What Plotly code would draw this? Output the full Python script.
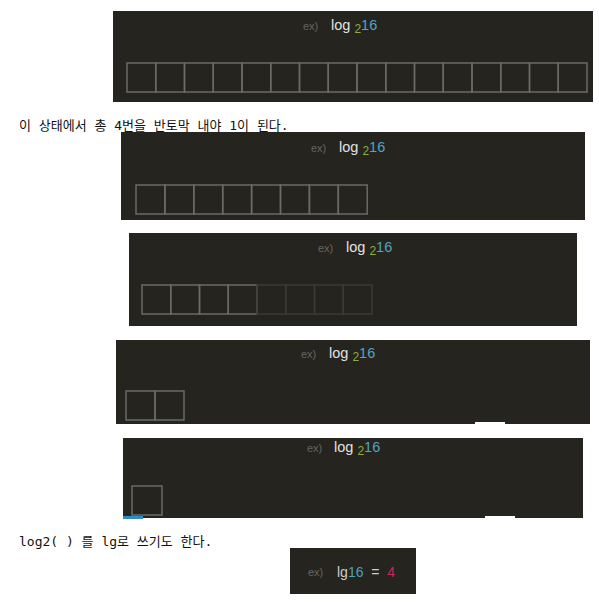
import plotly.graph_objects as go

# ---- data ----
bright_boxes = [16, 8, 4, 2, 1]        # boxes drawn at full brightness in each step
faded_boxes = [0, 0, 4, 0, 0]          # boxes already cut away (faded)
base_label = "2"
arg_label = "16"
result_label = "4"
caption_1 = "이 상태에서 총 4번을 반토막 내야 1이 된다."
caption_2 = "log2( ) 를 lg로 쓰기도 한다."

# ---- layout (pixel geometry of the screenshot) ----
W, H = 599, 611
BG = "#25241f"
BOX_LINE = "#6a6a68"
FADE_LINE = "#3b3a36"

panels = [  # x0, x1, y0, y1
    (113, 593, 11, 102),
    (121, 585, 132, 220),
    (129, 577, 233, 326),
    (116, 590, 340, 424),
    (123, 583, 438, 518),
]
box_geom = [  # left, top, width, height
    (127, 63, 28.75, 29),
    (136, 185, 28.9, 29),
    (142, 285, 28.75, 29),
    (126, 391, 29, 29),
    (132, 486, 30, 29),
]
text_pos = [  # ex) x, formula x, y
    (301, 329, 26),
    (309, 337, 148),
    (316, 344, 248),
    (299, 327, 354),
    (305, 332, 448),
]

fig = go.Figure()
shapes = []
annos = []

for i, (x0, x1, y0, y1) in enumerate(panels):
    shapes.append(dict(type="rect", xref="x", yref="y", x0=x0, x1=x1, y0=y0, y1=y1,
                       fillcolor=BG, line=dict(width=0), layer="below"))
    bx, by, bw, bh = box_geom[i]
    n_b = bright_boxes[i]
    n_f = faded_boxes[i]
    for k in range(n_b + n_f):
        col = BOX_LINE if k < n_b else FADE_LINE
        shapes.append(dict(type="rect", xref="x", yref="y",
                           x0=bx + k * bw, x1=bx + (k + 1) * bw, y0=by, y1=by + bh,
                           line=dict(color=col, width=1.5), fillcolor="rgba(0,0,0,0)"))
    ex_x, fx, ty = text_pos[i]
    annos.append(dict(x=ex_x, y=ty, xref="x", yref="y", text="ex)", showarrow=False,
                      xanchor="left", yanchor="middle",
                      font=dict(family="Liberation Sans", size=11, color="#66665f")))
    annos.append(dict(x=fx, y=ty, xref="x", yref="y", showarrow=False,
                      xanchor="left", yanchor="middle",
                      text=("log <sub><span style='color:#8fae3a;font-size:12px'>" + base_label +
                            "</span></sub><span style='color:#4ea7c6'>" + arg_label + "</span>"),
                      font=dict(family="Liberation Sans", size=14.5, color="#e2e2e0")))

# white notches / blue bar at panel bottoms
shapes.append(dict(type="rect", xref="x", yref="y", x0=475, x1=505, y0=422, y1=425,
                   fillcolor="white", line=dict(width=0)))
shapes.append(dict(type="rect", xref="x", yref="y", x0=485, x1=515, y0=516, y1=519,
                   fillcolor="white", line=dict(width=0)))
shapes.append(dict(type="rect", xref="x", yref="y", x0=123, x1=143, y0=516, y1=519,
                   fillcolor="#2b8fc4", line=dict(width=0)))

# final small panel
shapes.append(dict(type="rect", xref="x", yref="y", x0=290, x1=416, y0=548, y1=594,
                   fillcolor=BG, line=dict(width=0), layer="below"))
annos.append(dict(x=306, y=572, xref="x", yref="y", text="ex)", showarrow=False,
                  xanchor="left", yanchor="middle",
                  font=dict(family="Liberation Sans", size=11, color="#66665f")))
annos.append(dict(x=335, y=572, xref="x", yref="y", showarrow=False,
                  xanchor="left", yanchor="middle",
                  text=("lg<span style='color:#4e9fbd'>" + arg_label + "</span>"
                        "  =  <span style='color:#c6295f'>" + result_label + "</span>"),
                  font=dict(family="Liberation Sans", size=14, color="#cfcfcd")))

# captions
cap_font = dict(family="DejaVu Sans Mono, Noto Sans CJK KR", size=13, color="#111111")
annos.append(dict(x=17, y=125, xref="x", yref="y", text=caption_1, showarrow=False,
                  xanchor="left", yanchor="middle", font=cap_font))
annos.append(dict(x=17, y=541, xref="x", yref="y", text=caption_2, showarrow=False,
                  xanchor="left", yanchor="middle", font=cap_font))

fig.update_layout(
    width=W, height=H,
    margin=dict(l=0, r=0, t=0, b=0),
    paper_bgcolor="white", plot_bgcolor="white",
    xaxis=dict(range=[0, W], visible=False, fixedrange=True),
    yaxis=dict(range=[H, 0], visible=False, fixedrange=True),
    shapes=shapes, annotations=annos, showlegend=False,
)

fig.write_html("out.html", config={"displayModeBar": False},
               post_script="document.body.style.margin='0';document.body.style.overflow='hidden';")
